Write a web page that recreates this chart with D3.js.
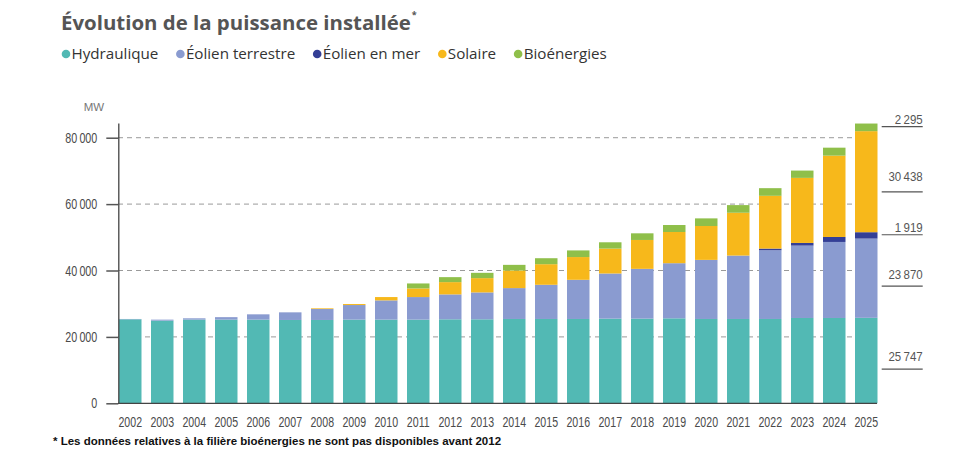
<!DOCTYPE html>
<html>
<head>
<meta charset="utf-8">
<script src="https://cdn.jsdelivr.net/npm/d3@7"></script>
<style>
  body { margin: 0; background: #fff; }
  svg text { font-family: "Liberation Sans", sans-serif; }
</style>
</head>
<body>
<div id="app"></div>
<script>
// data
var years = ["2002","2003","2004","2005","2006","2007","2008","2009","2010","2011","2012","2013",
             "2014","2015","2016","2017","2018","2019","2020","2021","2022","2023","2024","2025"];
var hydraulique = [25300,24900,25200,25200,25200,25100,25100,25200,25200,25200,25300,25300,
                   25400,25400,25400,25500,25500,25600,25400,25400,25400,25700,25700,25747];
var eolienTerrestre = [100,300,400,750,1600,2300,3300,4400,5800,6800,7500,8100,
                       9300,10300,11800,13600,15000,16600,17800,19100,20700,21800,22900,23870];
var eolienMer = [0,0,0,0,0,0,0,0,0,0,0,0,
                 0,0,0,0,0,0,0,0,500,800,1500,1919];
var solaire = [0,0,0,0,0,0,200,300,1000,2600,3700,4300,
               5300,6200,6850,7500,8700,9400,10200,12900,15900,19600,24500,30438];
var bioenergies = [0,0,0,0,0,0,0,0,0,1500,1500,1600,
                   1700,1800,2000,1900,2000,2100,2300,2300,2300,2200,2400,2295];
var seriesKeys = ["hydraulique","eolienTerrestre","eolienMer","solaire","bioenergies"];
var seriesNames = ["Hydraulique","Éolien terrestre","Éolien en mer","Solaire","Bioénergies"];
var seriesColors = ["#52b9b4","#8a9bd0","#343f96","#f7b81b","#8fbf4a"];
var yTicks = [0,20000,40000,60000,80000];

var width = 977, height = 476;
var fr = d3.formatLocale({decimal: ",", thousands: "\u2009", grouping: [3], currency: ["", " €"]});
var fmt = fr.format(",d");

// the source uses a condensed face; squeeze the glyphs to get close
function condense(sel, k) {
  sel.each(function() {
    var w = this.getComputedTextLength();
    d3.select(this).attr("textLength", w * k).attr("lengthAdjust", "spacingAndGlyphs");
  });
}

var table = years.map(function(yr, i) {
  return {year: yr, hydraulique: hydraulique[i], eolienTerrestre: eolienTerrestre[i],
          eolienMer: eolienMer[i], solaire: solaire[i], bioenergies: bioenergies[i]};
});
var stacked = d3.stack().keys(seriesKeys)(table);

var svg = d3.select("#app").append("svg").attr("width", width).attr("height", height);

var x = d3.scaleBand().domain(years).range([119, 877.5]).paddingInner(0.297).paddingOuter(0);
var y = d3.scaleLinear().domain([0, 84400]).range([403.3, 123.1]);
var color = d3.scaleOrdinal().domain(seriesKeys).range(seriesColors);

// title
var title = svg.append("text").attr("x", 61).attr("y", 30)
  .style("font-family", "'Open Sans', sans-serif").style("font-weight", "bold")
  .style("font-size", "22px").attr("fill", "#555").text("Évolution de la puissance installée");
var tw = title.node().getComputedTextLength();
title.style("font-size", (22 * 350 / tw) + "px");
tw = title.node().getComputedTextLength();
svg.append("text").attr("x", 61 + tw + 1).attr("y", 18).attr("fill", "#555")
  .style("font-family", "'Open Sans', sans-serif").style("font-weight", "bold")
  .style("font-size", "9px").text("*");

// legend
var lx = 66;
seriesKeys.forEach(function(k, i) {
  svg.append("circle").attr("cx", lx).attr("cy", 54).attr("r", 4.3).attr("fill", color(k));
  var t = svg.append("text").attr("x", lx + 5.5).attr("y", 54).attr("dy", "0.35em")
    .style("font-family", "'Open Sans', sans-serif").style("font-size", "15.2px")
    .attr("fill", "#333").text(seriesNames[i]);
  lx = lx + 5.5 + t.node().getComputedTextLength() + 22;
});

// grid
svg.append("g").selectAll("line").data(yTicks.filter(function(d) { return d > 0; }))
  .enter().append("line")
  .attr("x1", 118).attr("x2", 877).attr("y1", function(d) { return y(d); }).attr("y2", function(d) { return y(d); })
  .attr("stroke", "#9a9a9a").attr("stroke-width", 1).attr("stroke-dasharray", "5,4");

// bars
svg.append("g").selectAll("g").data(stacked).enter().append("g")
  .attr("fill", function(d) { return color(d.key); })
  .selectAll("rect").data(function(d) { return d; }).enter().append("rect")
  .attr("x", function(d) { return x(d.data.year); })
  .attr("width", x.bandwidth())
  .attr("y", function(d) { return y(d[1]); })
  .attr("height", function(d) { return y(d[0]) - y(d[1]); });

// axes
var yAxis = svg.append("g").attr("transform", "translate(118.3,0)")
  .call(d3.axisLeft(y).tickValues(yTicks).tickFormat(fmt).tickSize(12).tickSizeOuter(0).tickPadding(9));
yAxis.select(".domain").attr("stroke", "#444").attr("stroke-width", 1.3);
yAxis.selectAll(".tick line").attr("stroke", "#555").attr("stroke-width", 1.5);
yAxis.selectAll(".tick text").attr("fill", "#4a4a4a").style("font-size", "14.5px")
  .style("font-family", "'Liberation Sans', sans-serif");
condense(yAxis.selectAll(".tick text"), 0.74);

var xAxis = svg.append("g").attr("transform", "translate(0,403.3)")
  .call(d3.axisBottom(x).tickSize(0).tickPadding(13.5));
xAxis.select(".domain").attr("d", "M118,0H877").attr("stroke", "#444").attr("stroke-width", 1.3);
xAxis.selectAll(".tick text").attr("fill", "#4a4a4a").style("font-size", "14.5px")
  .style("font-family", "'Liberation Sans', sans-serif");
condense(xAxis.selectAll(".tick text"), 0.73);

svg.append("text").attr("x", 94).attr("y", 107).attr("dy", "0.35em").attr("text-anchor", "middle")
  .attr("fill", "#777").style("font-size", "11.5px").text("MW");

// values of the last year, on the right
var last = years.length - 1;
var rightLabels = svg.append("g");
stacked.forEach(function(s) {
  var d = s[last], v = d[1] - d[0];
  var lineY = v > 5000 ? y(d[0] + 0.4 * v) : y(d[0] + 0.6 * v);
  var textY = Math.min(y(d[0] + 0.55 * v), lineY - 7.5);
  rightLabels.append("line").attr("x1", 881.7).attr("x2", 922.7).attr("y1", lineY).attr("y2", lineY)
    .attr("stroke", "#555").attr("stroke-width", 1.2);
  rightLabels.append("text").attr("x", 922.7).attr("y", textY).attr("dy", "0.35em").attr("text-anchor", "end")
    .attr("fill", "#555").style("font-size", "13.5px").text(fmt(v));
});
condense(rightLabels.selectAll("text"), 0.85);

// footnote
svg.append("text").attr("x", 53).attr("y", 445)
  .style("font-family", "'Liberation Sans', sans-serif").style("font-weight", "bold")
  .style("font-size", "11.5px").attr("fill", "#111")
  .text("* Les données relatives à la filière bioénergies ne sont pas disponibles avant 2012");
</script>
</body>
</html>
